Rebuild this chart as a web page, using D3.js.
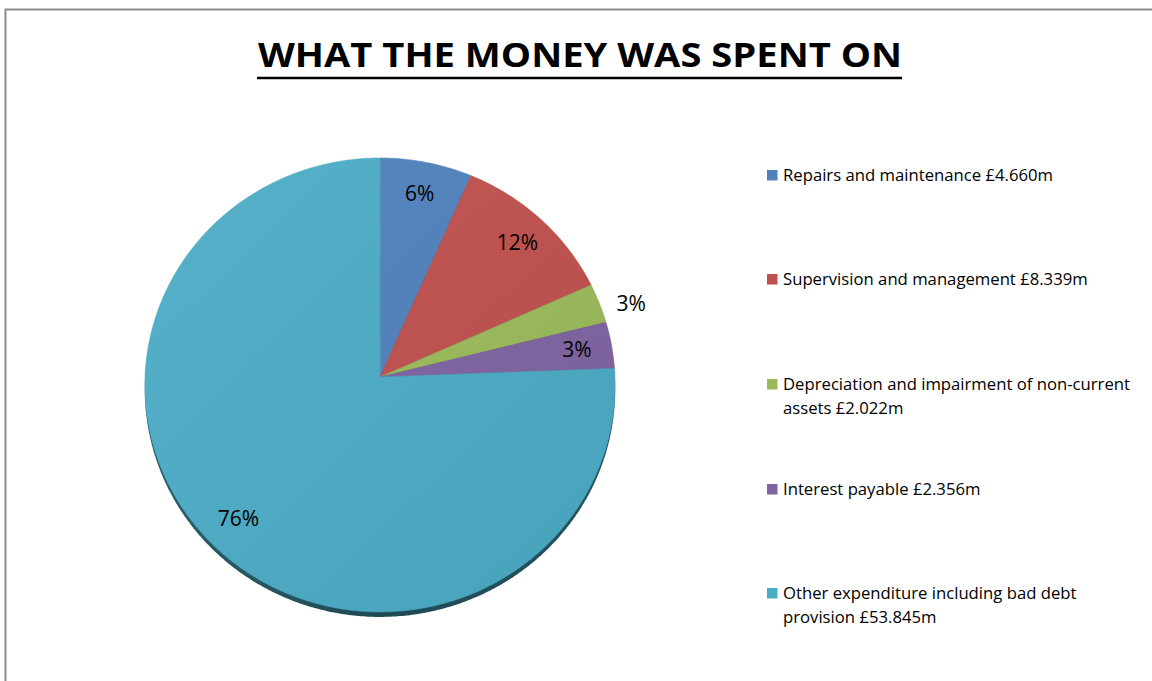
<!DOCTYPE html>
<html>
<head>
<meta charset="utf-8">
<script src="https://cdn.jsdelivr.net/npm/d3@7"></script>
<style>
  html, body { margin: 0; padding: 0; background: #ffffff; }
  svg { display: block; }
</style>
</head>
<body>
<svg id="chart" width="1152" height="681"></svg>
<script>
// Housing revenue account spending, £ millions
const categories = [
  "Repairs and maintenance £4.660m",
  "Supervision and management £8.339m",
  "Depreciation and impairment of non-current assets £2.022m",
  "Interest payable £2.356m",
  "Other expenditure including bad debt provision £53.845m"
];
const legendLines = [
  ["Repairs and maintenance £4.660m"],
  ["Supervision and management £8.339m"],
  ["Depreciation and impairment of non-current", "assets £2.022m"],
  ["Interest payable £2.356m"],
  ["Other expenditure including bad debt", "provision £53.845m"]
];
const values = [4.660, 8.339, 2.022, 2.356, 53.845];
const percentLabels = ["6%", "12%", "3%", "3%", "76%"];
const colors = ["#4f81bd", "#c0504d", "#9bbb59", "#8064a2", "#4bacc6"];

const svg = d3.select("#chart");
const W = 1152, H = 681;

// frame
svg.append("path")
  .attr("d", `M5.5,${H + 2} V9.5 H${W + 2}`)
  .attr("fill", "none")
  .attr("stroke", "#8c8c8c")
  .attr("stroke-width", 2);

// title
svg.append("text")
  .attr("x", 580).attr("y", 67)
  .attr("text-anchor", "middle")
  .attr("font-family", "'Open Sans', sans-serif")
  .attr("font-weight", "bold")
  .attr("font-size", 34)
  .attr("fill", "#000")
  .attr("textLength", 644)
  .attr("lengthAdjust", "spacingAndGlyphs")
  .text("WHAT THE MONEY WAS SPENT ON");
svg.append("line")
  .attr("x1", 257).attr("x2", 902)
  .attr("y1", 78).attr("y2", 78)
  .attr("stroke", "#000").attr("stroke-width", 2.5);

// tilted pie: a unit disc seen slightly from above, with mild perspective
const cx = 380, cy = 377, rx = 235, ry = 226.7, k = 0.035, depth = 5;
function project(theta, r) {
  const u = r * Math.sin(theta), v = -r * Math.cos(theta);
  const d = 1 - k * v;
  return [cx + rx * u / d, cy + ry * v / d];
}

const pie = d3.pie().sort(null).value(d => d)(values);
const total = d3.sum(values);
const line = d3.line();

function slicePoints(a) {
  const n = Math.max(4, Math.ceil((a.endAngle - a.startAngle) / 0.01));
  const pts = [project(0, 0)];
  for (let i = 0; i <= n; i++) {
    pts.push(project(a.startAngle + (a.endAngle - a.startAngle) * i / n, 1));
  }
  return pts;
}

const defs = svg.append("defs");
const shade = defs.append("linearGradient")
  .attr("id", "shade").attr("x1", "0").attr("y1", "0").attr("x2", "1").attr("y2", "1");
shade.append("stop").attr("offset", "0").attr("stop-color", "#ffffff").attr("stop-opacity", 0.06);
shade.append("stop").attr("offset", "1").attr("stop-color", "#000000").attr("stop-opacity", 0.06);

const rim = defs.append("linearGradient")
  .attr("id", "rim").attr("x1", "0").attr("y1", "0").attr("x2", "1").attr("y2", "0");
rim.append("stop").attr("offset", "0").attr("stop-color", "#2a5f6c");
rim.append("stop").attr("offset", "0.5").attr("stop-color", "#1f4a55");
rim.append("stop").attr("offset", "1").attr("stop-color", "#24525e");

// side edge of the disc
const outline = d3.range(0, 629).map(i => project(i / 100, 1));
svg.append("path")
  .attr("d", line(outline.map(p => [p[0], p[1] + depth])) + "Z")
  .attr("fill", "url(#rim)");

svg.append("g").selectAll("path.slice")
  .data(pie)
  .join("path")
  .attr("class", "slice")
  .attr("d", a => line(slicePoints(a)) + "Z")
  .attr("fill", (a, i) => colors[i])
  .attr("stroke", (a, i) => colors[i])
  .attr("stroke-width", 0.5);

svg.append("path")
  .attr("d", line(outline) + "Z")
  .attr("fill", "url(#shade)");

// percentage labels
svg.append("g").selectAll("text")
  .data(pie)
  .join("text")
  .each(function (a, i) {
    const mid = (a.startAngle + a.endAngle) / 2;
    const outside = a.value / total < 0.03;
    const p = project(outside ? mid + 0.04 : mid, outside ? 1.13 : 0.85);
    d3.select(this)
      .attr("x", p[0]).attr("y", p[1] + 7.5)
      .text(percentLabels[i]);
  })
  .attr("text-anchor", "middle")
  .attr("font-family", "'Open Sans', sans-serif")
  .attr("font-size", 21)
  .attr("fill", "#000");

// legend
const legendY = [181, 285, 390, 495, 599];
const leg = svg.append("g")
  .attr("font-family", "'Open Sans', sans-serif")
  .attr("font-size", 16.7)
  .attr("fill", "#000");
legendLines.forEach((lines, i) => {
  leg.append("rect")
    .attr("x", 767).attr("y", legendY[i] - 11)
    .attr("width", 10.5).attr("height", 10.5)
    .attr("fill", colors[i]);
  const t = leg.append("text").attr("x", 783).attr("y", legendY[i]);
  lines.forEach((s, j) => {
    t.append("tspan").attr("x", 783).attr("dy", j === 0 ? 0 : 23.5).text(s);
  });
});
</script>
</body>
</html>
